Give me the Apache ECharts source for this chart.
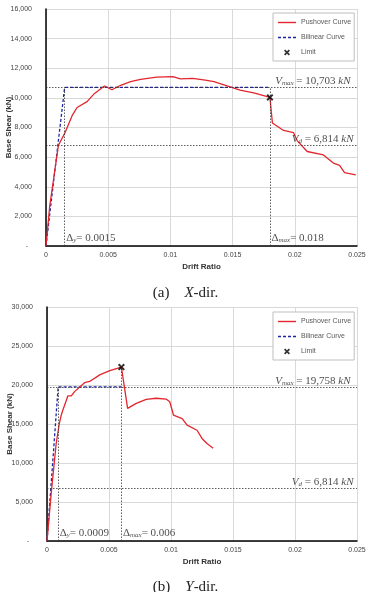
<!DOCTYPE html>
<html><head><meta charset="utf-8">
<script src="https://cdn.jsdelivr.net/npm/echarts@6/dist/echarts.min.js"></script>
<style>html,body{margin:0;padding:0;background:#fff}#c{width:371px;height:592px}</style>
</head><body><div id="c"></div>
<script>
// ---- data (a) X-dir ----
const pushXa = [0, 0.0003, 0.001, 0.0015, 0.0021, 0.0025, 0.0033, 0.0039, 0.0047, 0.0053, 0.006, 0.0068, 0.0076, 0.0089, 0.0102, 0.0108, 0.0118, 0.0128, 0.0135, 0.0148, 0.0156, 0.0167, 0.018, 0.0182, 0.0191, 0.0199, 0.0202, 0.021, 0.0223, 0.0231, 0.0236, 0.024, 0.0249];
const pushYa = [0, 2700, 6800, 7600, 8800, 9350, 9750, 10300, 10800, 10550, 10850, 11100, 11250, 11400, 11430, 11280, 11320, 11200, 11100, 10750, 10520, 10330, 10030, 8300, 7800, 7650, 7100, 6380, 6150, 5600, 5450, 4950, 4800];
const biXa = [0, 0.0015, 0.018];
const biYa = [0, 10703, 10703];
const limitA = [0.018, 10030];
const vmaxA = 10703, vdA = 6814, dyA = 0.0015, dmaxA = 0.018;
// ---- data (b) Y-dir ----
const pushXb = [0, 0.00034, 0.00074, 0.001, 0.00115, 0.00128, 0.00142, 0.00168, 0.00196, 0.00222, 0.00303, 0.00344, 0.00425, 0.00506, 0.006, 0.0065, 0.0072, 0.008, 0.0088, 0.0096, 0.0099, 0.0102, 0.0109, 0.0113, 0.0121, 0.0125, 0.0129, 0.0134];
const pushYb = [0, 6100, 12500, 15100, 16150, 16800, 17400, 18600, 18600, 19150, 20300, 20450, 21300, 21850, 22300, 17000, 17650, 18150, 18300, 18200, 17850, 16150, 15700, 14850, 14200, 13150, 12500, 11900];
const biXb = [0, 0.0009, 0.006];
const biYb = [0, 19758, 19758];
const limitB = [0.006, 22300];
const vmaxB = 19758, vdB = 6814, dyB = 0.0009, dmaxB = 0.006;
// ---- ticks / labels ----
const xTicks = [0, 0.005, 0.01, 0.015, 0.02, 0.025];
const yMaxA = 16000, yStepA = 2000, yMaxB = 30000, yStepB = 5000;
const legendNames = ['Pushover Curve', 'Bilinear Curve', 'Limit'];
const captions = [['(a)', 'X', '-dir.'], ['(b)', 'Y', '-dir.']];
const vmaxTexts = ['10,703', '19,758'], vdTexts = ['6,814', '6,814'];
const dyTexts = ['0.0015', '0.0009'], dmaxTexts = ['0.018', '0.006'];

const zip = (a, b) => a.map((v, i) => [v, b[i]]);
const RED = '#e3262d', BLUE = '#1c24a8';
const XPATH = 'path://M0,2L2,0L5,3L8,0L10,2L7,5L10,8L8,10L5,7L2,10L0,8L3,5Z';
const LINE_ICON = 'path://M0,0H18V1.4H0Z';
const DASH_ICON = 'path://M0,0H3V1.4H0Z M5,0H8V1.4H5Z M10,0H13V1.4H10Z M15,0H18V1.4H15Z';
const SERIF = 'Liberation Serif';
const SANS = 'Liberation Sans';

const mathRich = {
  v: {fontFamily: SERIF, fontStyle: 'italic', fontSize: 11, color: '#222'},
  s: {fontFamily: SERIF, fontStyle: 'italic', fontSize: 7, color: '#222', verticalAlign: 'bottom', padding: [4, 0, 0, 0]},
  t: {fontFamily: SERIF, fontSize: 11, color: '#222'},
  d: {fontFamily: SERIF, fontSize: 11, color: '#222'}
};

function grid(i) {
  return i === 0 ? {left: 46, right: 14, top: 9, bottom: 346, outerBoundsMode: 'none', containLabel: false}
                 : {left: 47, right: 14, top: 307, bottom: 51, outerBoundsMode: 'none', containLabel: false};
}
function xAxis(i) {
  return {
    type: 'value', gridIndex: i, min: xTicks[0], max: xTicks[xTicks.length - 1], interval: xTicks[1] - xTicks[0],
    name: 'Drift Ratio', nameLocation: 'middle', nameGap: 17, nameMoveOverlap: false,
    nameTextStyle: {fontFamily: SANS, fontWeight: 'bold', fontSize: 8, color: '#333'},
    axisLine: {lineStyle: {color: '#000', width: 1.5}},
    axisTick: {show: false},
    axisLabel: {fontFamily: SANS, fontSize: 7, color: '#444', margin: 6, formatter: v => String(+v.toFixed(3))},
    splitLine: {show: true, lineStyle: {color: '#d9d9d9', width: 1}}
  };
}
function yAxis(i, max, step) {
  return {
    type: 'value', gridIndex: i, min: 0, max: max, interval: step,
    name: 'Base Shear (kN)', nameLocation: 'middle', nameGap: 33, nameMoveOverlap: false,
    nameTextStyle: {fontFamily: SANS, fontWeight: 'bold', fontSize: 8, color: '#333'},
    axisLine: {show: true, lineStyle: {color: '#000', width: 1.5}},
    axisTick: {show: false},
    axisLabel: {fontFamily: SANS, fontSize: 7, color: '#444', margin: 14,
      formatter: v => v === 0 ? '-  ' : v.toLocaleString('en-US')},
    splitLine: {show: true, lineStyle: {color: '#d9d9d9', width: 1}}
  };
}
const dotted = {color: '#333', width: 0.8, type: [1.5, 1.5]};

function seriesFor(i, px, py, bx, by, lim, vmax, vd, dy, dmax, xmax) {
  return [
    {name: 'Bilinear Curve', type: 'line', xAxisIndex: i, yAxisIndex: i, data: zip(bx, by), showSymbol: false, symbol: 'none',
     lineStyle: {color: BLUE, width: 1.3, type: [3, 2]}, itemStyle: {color: BLUE}, z: 3, silent: true},
    {name: 'Pushover Curve', type: 'line', xAxisIndex: i, yAxisIndex: i, data: zip(px, py), showSymbol: false, symbol: 'none',
     lineStyle: {color: RED, width: 1.3}, itemStyle: {color: RED}, z: 4, silent: true},
    {name: 'Limit', type: 'scatter', xAxisIndex: i, yAxisIndex: i, data: [lim], symbol: XPATH, symbolSize: 7,
     itemStyle: {color: '#000'}, z: 6, silent: true},
    {type: 'scatter', xAxisIndex: i, yAxisIndex: i, symbolSize: 1, itemStyle: {color: 'transparent'}, silent: true, z: 5,
     markLine: {silent: true, symbol: 'none', label: {show: false}, lineStyle: dotted, animation: false,
       data: [
         {yAxis: vmax}, {yAxis: vd},
         [{coord: [dy, 0]}, {coord: [dy, vmax]}],
         [{coord: [dmax, 0]}, {coord: [dmax, Math.max(vmax, lim[1])]}]
       ]},
     data: [
       {value: [xmax, vmax], label: {show: true, position: [-6, 0], align: 'right', verticalAlign: 'bottom',
         formatter: '{v|V}{s|max}{t| = ' + vmaxTexts[i] + ' }{v|kN}', rich: mathRich}},
       {value: [xmax, vd], label: {show: true, position: [-3, 0], align: 'right', verticalAlign: 'bottom',
         formatter: '{v|V}{s|d}{t| = ' + vdTexts[i] + ' }{v|kN}', rich: mathRich}},
       {value: [dy, 0], label: {show: true, position: [2, -2], align: 'left', verticalAlign: 'bottom',
         formatter: '{d|Δ}{s|y}{t|= ' + dyTexts[i] + '}', rich: mathRich}},
       {value: [dmax, 0], label: {show: true, position: [2, -2], align: 'left', verticalAlign: 'bottom',
         formatter: '{d|Δ}{s|max}{t|= ' + dmaxTexts[i] + '}', rich: mathRich}}
     ]}
  ];
}

function legend(top) {
  return {
    data: [
      {name: legendNames[0], icon: LINE_ICON},
      {name: legendNames[1], icon: DASH_ICON},
      {name: legendNames[2], icon: XPATH}
    ],
    orient: 'vertical', left: 273, top: top, itemWidth: 18, itemHeight: 6, itemGap: 8, symbolKeepAspect: true,
    padding: [6, 3, 5, 5], backgroundColor: '#fff', borderColor: '#bfbfbf', borderWidth: 1, borderRadius: 0,
    textStyle: {fontFamily: SANS, fontSize: 7, color: '#595959'}, selectedMode: false
  };
}
function caption(i, top) {
  const c = captions[i];
  return {
    text: '{n|' + c[0] + '}   {i|' + c[1] + '}{n|' + c[2] + '}', left: 'center', top: top,
    textStyle: {fontWeight: 'normal', rich: {
      n: {fontFamily: SERIF, fontSize: 15, fontWeight: 'normal', color: '#222'},
      i: {fontFamily: SERIF, fontSize: 15, fontStyle: 'italic', fontWeight: 'normal', color: '#222'}
    }}
  };
}

const chart = echarts.init(document.getElementById('c'), null, {renderer: 'canvas'});
chart.setOption({
  animation: false,
  backgroundColor: '#fff',
  title: [caption(0, 279), caption(1, 573)],
  legend: [legend(13), legend(312)],
  grid: [grid(0), grid(1)],
  xAxis: [xAxis(0), xAxis(1)],
  yAxis: [yAxis(0, yMaxA, yStepA), yAxis(1, yMaxB, yStepB)],
  series: [].concat(
    seriesFor(0, pushXa, pushYa, biXa, biYa, limitA, vmaxA, vdA, dyA, dmaxA, xTicks[xTicks.length - 1]),
    seriesFor(1, pushXb, pushYb, biXb, biYb, limitB, vmaxB, vdB, dyB, dmaxB, xTicks[xTicks.length - 1])
  )
});
</script></body></html>
